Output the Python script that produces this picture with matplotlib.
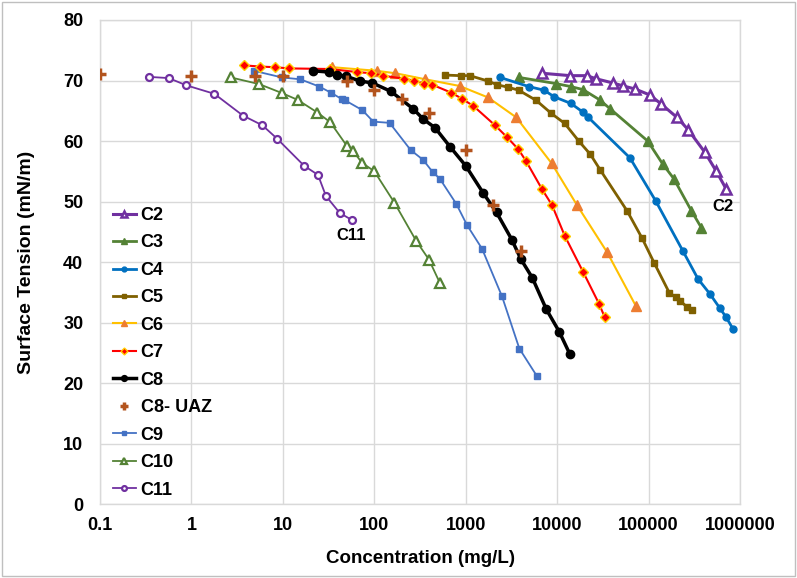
import matplotlib
matplotlib.use("Agg")
import matplotlib.pyplot as plt
from matplotlib.patches import Rectangle

plt.rcParams['font.family'] = ['Liberation Sans', 'DejaVu Sans']
plt.rcParams['font.weight'] = 'bold'

# ---- data (concentration mg/L, surface tension mN/m) ----
c2_x = [6824, 13930, 21200, 26400, 40520, 52870, 71000, 103500, 137600, 204500, 269900, 414000, 550500, 703400]
c2_y = [71.2, 70.8, 70.8, 70.3, 69.6, 69.1, 68.6, 67.6, 66.1, 63.9, 61.9, 58.1, 55.0, 52.1]

c3_x = [3855, 9640, 14060, 19170, 29190, 38120, 97750, 142600, 188200, 293100, 376500]
c3_y = [70.5, 69.5, 69.0, 68.5, 66.8, 65.3, 60.0, 56.2, 53.8, 48.5, 45.7]

c4_x = [2382, 4887, 7180, 9310, 14170, 19020, 21920, 62630, 119600, 237700, 347400, 469900, 599800, 703400, 832600]
c4_y = [70.5, 69.0, 68.4, 67.3, 66.2, 64.8, 63.9, 57.2, 50.1, 41.8, 37.2, 34.7, 32.4, 30.9, 29.0]

c5_x = [589, 883, 1109, 1762, 2200, 2877, 3796, 5912, 8570, 12100, 17220, 23060, 29650, 58480, 85140,
        115600, 168700, 198200, 220800, 261300, 298500]
c5_y = [70.9, 70.8, 70.8, 69.9, 69.3, 68.9, 68.4, 66.7, 64.6, 62.9, 60.0, 57.8, 55.2, 48.4, 43.9,
        39.8, 34.9, 34.2, 33.6, 32.6, 32.1]

c6_x = [34.7, 106, 170, 361, 855, 1753, 3573, 8710, 16480, 35240, 72800]
c6_y = [72.2, 71.6, 71.2, 70.2, 69.1, 67.2, 63.9, 56.3, 49.4, 41.6, 32.7]

c7_x = [3.80, 5.65, 8.16, 11.6, 32.8, 64.2, 92.7, 124, 210, 270, 347, 431, 692, 906, 1211, 2090, 2843,
        3777, 4560, 6855, 8790, 12130, 19320, 28700, 33100]
c7_y = [72.5, 72.3, 72.2, 72.0, 71.9, 71.4, 71.2, 70.8, 70.3, 70.0, 69.5, 69.3, 68.0, 67.0, 65.8, 62.6,
        60.6, 58.6, 56.7, 52.0, 49.4, 44.3, 38.3, 33.1, 30.9]

c8_x = [21.4, 31.6, 38.8, 49.1, 70.3, 95.1, 152, 267, 344, 461, 678, 1000, 1553, 2172, 3192, 4000, 5346,
        7603, 10520, 13740]
c8_y = [71.6, 71.4, 70.9, 70.7, 69.9, 69.6, 68.2, 65.3, 63.6, 62.2, 59.0, 55.9, 51.4, 48.2, 43.7, 40.5,
        37.4, 32.2, 28.5, 24.8]

c8uaz_x = [0.1, 1, 5, 10, 50, 100, 200, 400, 1000, 2000, 4000]
c8uaz_y = [71.0, 70.8, 70.7, 70.7, 70.0, 68.5, 66.9, 64.6, 58.5, 49.5, 41.8]

c9_x = [4.83, 9.8, 15.5, 25.0, 33.4, 44.4, 48.2, 74, 97.5, 147, 250, 341, 439, 519, 789, 1033, 1507,
        2496, 3857, 5970]
c9_y = [71.6, 70.5, 70.2, 69.0, 68.0, 66.9, 66.7, 65.1, 63.2, 63.0, 58.5, 56.9, 54.8, 53.8, 49.6, 46.1,
        42.2, 34.3, 25.7, 21.2]

c10_x = [2.71, 5.52, 9.86, 14.5, 23.9, 33.0, 50.6, 58.1, 73.4, 100, 166, 287, 396, 519]
c10_y = [70.5, 69.4, 67.9, 66.8, 64.7, 63.1, 59.1, 58.4, 56.4, 55.0, 49.8, 43.5, 40.4, 36.6]

c11_x = [0.341, 0.564, 0.88, 1.78, 3.66, 5.96, 8.63, 17.1, 24.2, 29.6, 41.9, 57.5]
c11_y = [70.6, 70.4, 69.2, 67.8, 64.2, 62.6, 60.4, 55.9, 54.4, 50.9, 48.1, 46.9]

x_ticks = [0.1, 1, 10, 100, 1000, 10000, 100000, 1000000]
x_tick_labels = ['0.1', '1', '10', '100', '1000', '10000', '100000', '1000000']
y_ticks = [0, 10, 20, 30, 40, 50, 60, 70, 80]

fig = plt.figure(figsize=(7.97, 5.78), dpi=100)
ax = fig.add_axes([0.1255, 0.128, 0.803, 0.8374])

ms = 5
ax.plot(c2_x, c2_y, color='#7030A0', lw=2.2, marker='^', ms=6.5, mfc='white', mec='#7030A0', mew=1.8, label='C2', zorder=3)
ax.plot(c3_x, c3_y, color='#548235', lw=2.0, marker='^', ms=6.5, mfc='#548235', mec='#548235', label='C3', zorder=3)
ax.plot(c4_x, c4_y, color='#0070C0', lw=2.0, marker='o', ms=ms, mfc='#0070C0', mec='#0070C0', label='C4', zorder=3)
ax.plot(c5_x, c5_y, color='#7F6000', lw=2.0, marker='s', ms=ms, mfc='#7F6000', mec='#7F6000', label='C5', zorder=3)
ax.plot(c6_x, c6_y, color='#FFC000', lw=1.5, marker='^', ms=6.5, mfc='#ED7D31', mec='#ED7D31', label='C6', zorder=3)
ax.plot(c7_x, c7_y, color='#FF0000', lw=1.5, marker='D', ms=5, mfc='#FF0000', mec='#FFD000', mew=1.0, label='C7', zorder=4)
ax.plot(c8_x, c8_y, color='black', lw=2.5, marker='o', ms=6, mfc='black', mec='black', label='C8', zorder=5)
ax.plot(c8uaz_x, c8uaz_y, ls='none', marker='+', ms=8, mew=2.5, color='#B3541E', label='C8- UAZ', zorder=6)
ax.plot(c9_x, c9_y, color='#4472C4', lw=1.3, marker='s', ms=4.5, mfc='#4472C4', mec='#4472C4', label='C9', zorder=3)
ax.plot(c10_x, c10_y, color='#548235', lw=1.3, marker='^', ms=6.5, mfc='white', mec='#548235', mew=1.6, label='C10', zorder=3)
ax.plot(c11_x, c11_y, color='#7030A0', lw=1.3, marker='o', ms=5, mfc='white', mec='#7030A0', mew=1.6, label='C11', zorder=3)

ax.set_xscale('log')
ax.set_xlim(0.1, 1000000)
ax.set_ylim(0, 80)
ax.set_xticks(x_ticks)
ax.set_xticklabels(x_tick_labels)
ax.set_yticks(y_ticks)
ax.minorticks_off()
ax.tick_params(axis='x', length=0, labelsize=13, pad=9)
ax.tick_params(axis='y', length=0, labelsize=13, pad=12)
for lab in ax.get_xticklabels():
    lab.set_fontweight('bold')
for lab in ax.get_yticklabels():
    lab.set_fontweight('bold')

ax.grid(True, which='major', color='#D9D9D9', lw=1.0)
ax.set_axisbelow(True)
for s in ax.spines.values():
    s.set_color('#D9D9D9')
    s.set_linewidth(1.0)

ax.set_xlabel('Concentration (mg/L)', fontsize=13.5, fontweight='bold', labelpad=12)
ax.set_ylabel('Surface Tension (mN/m)', fontsize=14, fontweight='bold', labelpad=20)

ax.text(650000, 49.2, 'C2', fontsize=12, fontweight='bold', ha='center', va='center')
ax.text(56, 44.3, 'C11', fontsize=12, fontweight='bold', ha='center', va='center')

leg = ax.legend(loc='upper left', bbox_to_anchor=(0.0, 0.64), frameon=False,
                prop={'size': 13, 'weight': 'bold'}, handlelength=1.3, handletextpad=0.25,
                labelspacing=0.58, borderaxespad=0.3, markerscale=0.7)

fig.patches.append(Rectangle((0.003, 0.004), 0.994, 0.992, transform=fig.transFigure,
                             fill=False, edgecolor='#BFBFBF', lw=1.0))

fig.savefig('out.png', dpi=100)
